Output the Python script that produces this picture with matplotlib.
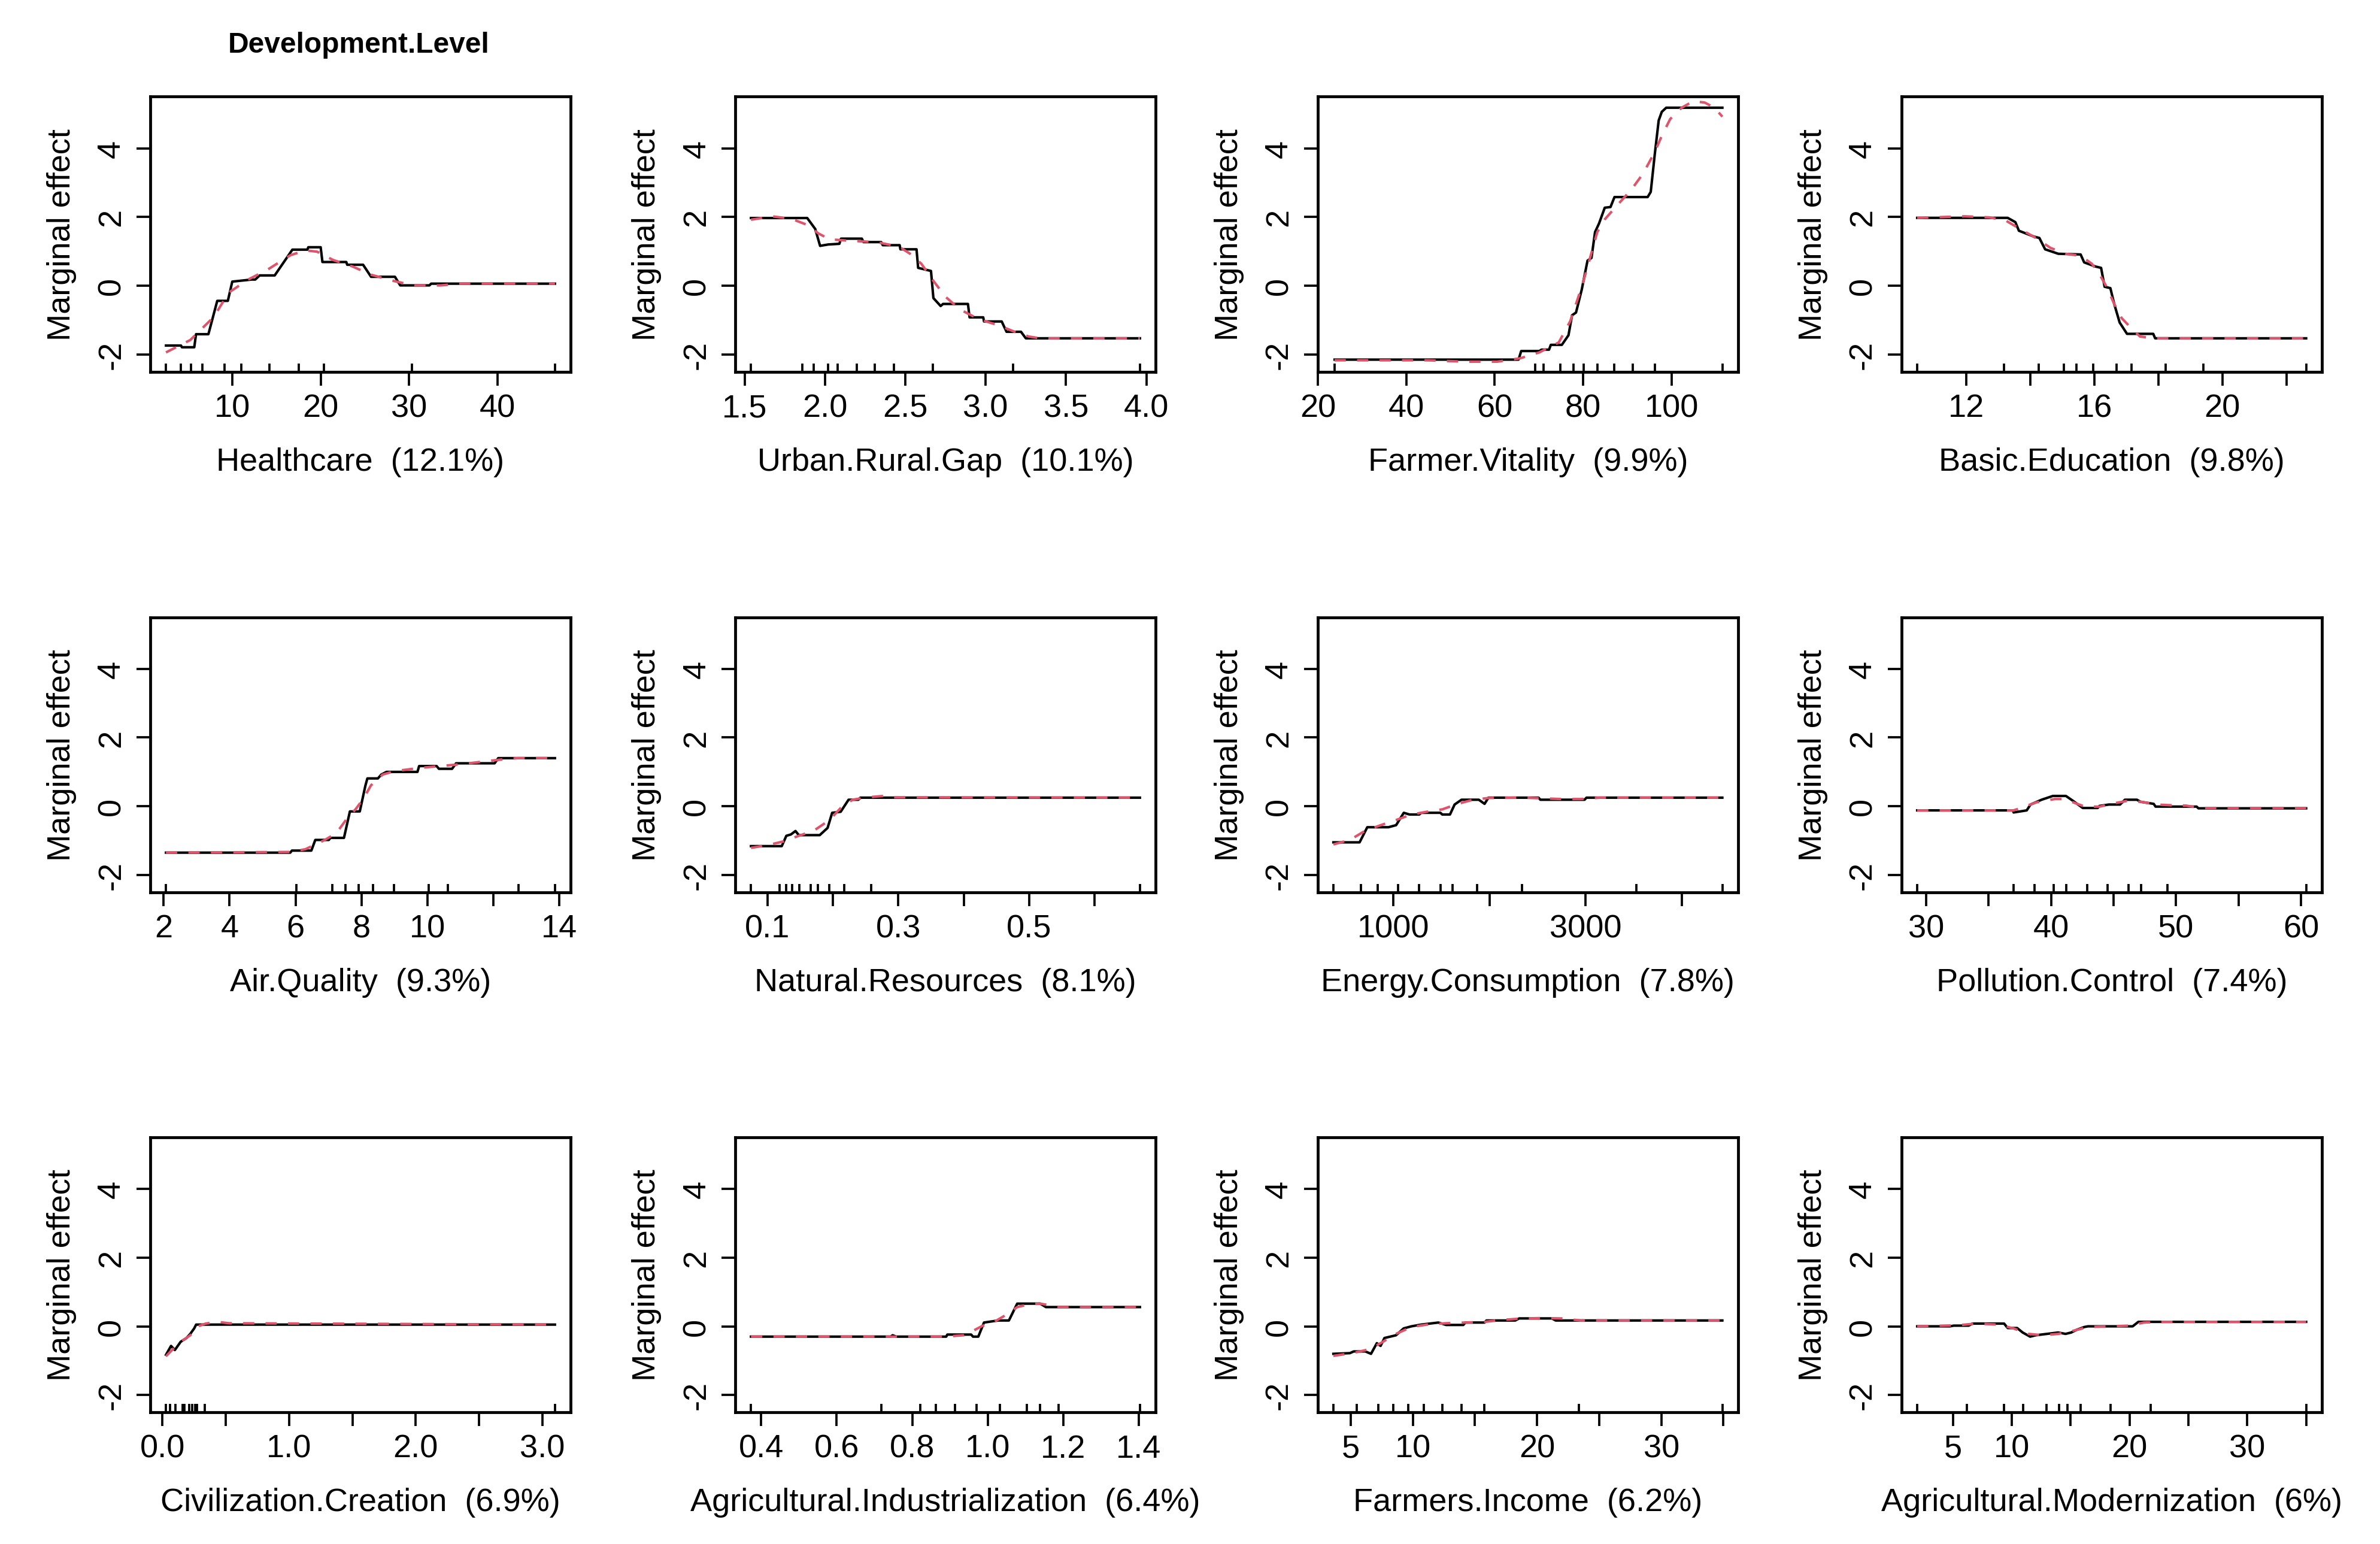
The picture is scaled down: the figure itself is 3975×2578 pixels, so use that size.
import matplotlib
matplotlib.use("Agg")
import matplotlib.pyplot as plt

plt.rcParams['font.family'] = ['Liberation Sans', 'DejaVu Sans']
plt.rcParams['axes.unicode_minus'] = False

# ---------------- data ----------------
names = ["Healthcare", "Urban.Rural.Gap", "Farmer.Vitality", "Basic.Education",
         "Air.Quality", "Natural.Resources", "Energy.Consumption", "Pollution.Control",
         "Civilization.Creation", "Agricultural.Industrialization", "Farmers.Income",
         "Agricultural.Modernization"]
importance = ["12.1", "10.1", "9.9", "9.8", "9.3", "8.1", "7.8", "7.4", "6.9", "6.4", "6.2", "6"]
y_ticks = [-2, 0, 2, 4]
y_ticklabels = ["-2", "0", "2", "4"]

# Healthcare
hc_rug = [2.5, 4.2, 5.3, 6.6, 9.1, 11.0, 14.2, 17.5, 20.4, 30.3, 46.5]
hc_black_x = [2.5, 4.2, 4.3, 5.7, 5.9, 7.3, 8.3, 9.5, 10.0, 12.2, 12.6, 13.1, 14.8, 16.8, 18.5, 18.6, 20.0, 20.2, 22.9, 23.0, 24.8, 25.7, 28.4, 29.0, 32.3, 32.5, 46.5]
hc_black_y = [-1.74, -1.74, -1.79, -1.79, -1.41, -1.41, -0.44, -0.44, 0.12, 0.18, 0.18, 0.30, 0.30, 1.05, 1.05, 1.12, 1.12, 0.69, 0.69, 0.61, 0.61, 0.26, 0.26, 0.01, 0.01, 0.06, 0.06]
hc_red_x = [2.5, 5.25, 7.9, 9.6, 11.8, 14.0, 16.6, 18.3, 19.6, 21.4, 23.6, 25.7, 28.4, 30.5, 33.6, 35.8, 46.5]
hc_red_y = [-1.94, -1.58, -0.91, -0.20, 0.18, 0.47, 0.89, 1.03, 0.99, 0.75, 0.56, 0.32, 0.13, 0.01, 0.01, 0.06, 0.06]
hc_xticks = [10, 20, 30, 40]
hc_xlabels = ["10", "20", "30", "40"]

# Urban.Rural.Gap
ur_rug = [1.54, 1.86, 1.93, 2.02, 2.08, 2.20, 2.31, 2.43, 2.67, 3.17, 3.96]
ur_black_x = [1.54, 1.89, 1.94, 1.97, 2.02, 2.09, 2.10, 2.23, 2.24, 2.35, 2.36, 2.465, 2.47, 2.57, 2.58, 2.66, 2.675, 2.72, 2.735, 2.89, 2.90, 2.985, 2.99, 3.10, 3.13, 3.22, 3.25, 3.96]
ur_black_y = [1.97, 1.97, 1.65, 1.16, 1.20, 1.22, 1.37, 1.37, 1.27, 1.27, 1.18, 1.18, 1.06, 1.06, 0.52, 0.43, -0.36, -0.59, -0.53, -0.53, -0.92, -0.92, -1.04, -1.04, -1.34, -1.34, -1.53, -1.53]
ur_red_x = [1.54, 1.67, 1.79, 1.89, 1.96, 2.03, 2.15, 2.32, 2.46, 2.53, 2.60, 2.675, 2.75, 2.84, 2.96, 3.08, 3.18, 3.27, 3.34, 3.96]
ur_red_y = [1.92, 2.02, 1.95, 1.77, 1.52, 1.35, 1.31, 1.27, 1.14, 0.93, 0.64, 0.14, -0.32, -0.69, -0.98, -1.15, -1.34, -1.48, -1.53, -1.53]
ur_xticks = [1.5, 2.0, 2.5, 3.0, 3.5, 4.0]
ur_xlabels = ["1.5", "2.0", "2.5", "3.0", "3.5", "4.0"]

# Farmer.Vitality
fv_rug = [23.8, 69.1, 71.0, 74.9, 77.8, 80.1, 83.2, 87.1, 91.2, 96.2, 111.5]
fv_black_x = [23.8, 65.4, 66.0, 70.1, 70.6, 72.3, 72.7, 75.2, 76.7, 77.5, 78.4, 79.7, 81.0, 81.9, 82.7, 83.6, 84.9, 86.2, 87.1, 94.6, 95.3, 96.2, 97.1, 97.8, 98.8, 111.5]
fv_black_y = [-2.15, -2.15, -1.90, -1.90, -1.86, -1.86, -1.72, -1.72, -1.44, -0.86, -0.78, -0.11, 0.73, 0.81, 1.56, 1.81, 2.27, 2.29, 2.58, 2.58, 2.73, 3.81, 4.81, 5.06, 5.18, 5.18]
fv_red_x = [23.8, 44.9, 53.6, 60.6, 65.8, 70.1, 74.5, 77.1, 79.7, 81.4, 83.2, 84.9, 87.5, 91.0, 93.6, 96.2, 97.9, 99.7, 102.3, 104.9, 107.5, 109.7, 111.5]
fv_red_y = [-2.17, -2.17, -2.21, -2.21, -2.11, -1.94, -1.65, -1.03, -0.03, 0.73, 1.56, 1.93, 2.31, 2.81, 3.27, 3.89, 4.39, 4.85, 5.18, 5.37, 5.33, 5.18, 4.92]
fv_xticks = [20, 40, 60, 80, 100]
fv_xlabels = ["20", "40", "60", "80", "100"]

# Basic.Education
be_rug = [10.46, 13.18, 14.26, 15.04, 15.43, 15.97, 16.70, 17.17, 18.22, 19.41, 22.62]
be_black_x = [10.46, 13.29, 13.53, 13.64, 14.11, 14.28, 14.46, 14.87, 15.57, 15.68, 16.03, 16.21, 16.32, 16.50, 16.62, 16.79, 17.02, 17.84, 17.90, 22.62]
be_black_y = [1.975, 1.975, 1.85, 1.60, 1.43, 1.39, 1.06, 0.93, 0.91, 0.68, 0.56, 0.52, -0.03, -0.07, -0.53, -1.07, -1.40, -1.40, -1.53, -1.53]
be_red_x = [10.46, 11.95, 12.71, 13.24, 13.70, 14.17, 14.63, 15.10, 15.57, 15.92, 16.15, 16.38, 16.62, 16.85, 17.20, 17.43, 17.90, 22.62]
be_red_y = [1.975, 2.02, 1.99, 1.89, 1.64, 1.39, 1.10, 0.93, 0.87, 0.64, 0.35, -0.03, -0.53, -0.94, -1.28, -1.48, -1.53, -1.53]
be_xticks = [12, 14, 16, 18, 20, 22]
be_xlabels = ["12", "", "16", "", "20", ""]

# Air.Quality
aq_rug = [2.07, 6.02, 7.12, 7.51, 7.91, 8.35, 8.99, 10.04, 10.62, 12.76, 13.87]
aq_black_x = [2.07, 5.84, 5.89, 6.48, 6.60, 7.01, 7.06, 7.47, 7.65, 7.95, 8.12, 8.18, 8.50, 8.60, 8.76, 9.70, 9.75, 10.28, 10.35, 10.75, 10.87, 12.04, 12.15, 13.87]
aq_black_y = [-1.35, -1.35, -1.29, -1.29, -0.98, -0.98, -0.92, -0.92, -0.15, -0.15, 0.60, 0.81, 0.81, 0.92, 1.00, 1.00, 1.17, 1.17, 1.09, 1.09, 1.25, 1.25, 1.40, 1.40]
aq_red_x = [2.07, 5.84, 6.30, 6.89, 7.24, 7.59, 7.82, 8.06, 8.29, 8.64, 8.99, 9.81, 10.98, 12.15, 12.74, 13.87]
aq_red_y = [-1.35, -1.33, -1.25, -0.98, -0.78, -0.32, -0.09, 0.22, 0.61, 0.92, 1.02, 1.12, 1.22, 1.35, 1.40, 1.40]
aq_xticks = [2, 4, 6, 8, 10, 12, 14]
aq_xlabels = ["2", "4", "6", "8", "10", "", "14"]

# Natural.Resources
nr_rug = [0.075, 0.119, 0.129, 0.138, 0.149, 0.166, 0.177, 0.195, 0.217, 0.259, 0.669]
nr_black_x = [0.075, 0.122, 0.129, 0.136, 0.143, 0.148, 0.180, 0.192, 0.199, 0.212, 0.224, 0.239, 0.242, 0.669]
nr_black_y = [-1.16, -1.16, -0.86, -0.82, -0.72, -0.84, -0.84, -0.63, -0.19, -0.16, 0.19, 0.19, 0.25, 0.25]
nr_red_x = [0.075, 0.101, 0.125, 0.148, 0.171, 0.195, 0.212, 0.230, 0.253, 0.277, 0.289, 0.669]
nr_red_y = [-1.21, -1.13, -1.02, -0.86, -0.71, -0.40, -0.05, 0.19, 0.26, 0.30, 0.26, 0.25]
nr_xticks = [0.1, 0.2, 0.3, 0.4, 0.5, 0.6]
nr_xlabels = ["0.1", "", "0.3", "", "0.5", ""]

# Energy.Consumption
ec_rug = [375, 660, 836, 1048, 1268, 1489, 1617, 1869, 2338, 3531, 4424]
ec_black_x = [375, 648, 728, 948, 1028, 1108, 1168, 1269, 1289, 1489, 1509, 1589, 1637, 1709, 1889, 1949, 1989, 2510, 2530, 2990, 3010, 4424]
ec_black_y = [-1.05, -1.05, -0.61, -0.61, -0.55, -0.19, -0.24, -0.24, -0.19, -0.19, -0.24, -0.24, 0.05, 0.19, 0.19, 0.07, 0.25, 0.25, 0.19, 0.19, 0.25, 0.25]
ec_red_x = [375, 547, 708, 868, 1028, 1188, 1348, 1509, 1669, 1829, 1989, 2350, 2750, 2950, 3151, 4424]
ec_red_y = [-1.11, -0.98, -0.71, -0.55, -0.40, -0.24, -0.16, -0.09, 0.07, 0.19, 0.24, 0.25, 0.21, 0.21, 0.25, 0.25]
ec_xticks = [1000, 2000, 3000, 4000]
ec_xlabels = ["1000", "", "3000", ""]

# Pollution.Control
pc_rug = [29.3, 37.0, 38.7, 40.2, 41.2, 42.9, 44.5, 46.2, 47.2, 49.3, 60.4]
pc_black_x = [29.3, 36.96, 37.01, 38.06, 38.36, 39.25, 40.15, 41.19, 41.79, 42.54, 43.73, 43.88, 44.63, 45.52, 45.91, 46.87, 47.16, 48.21, 48.36, 51.64, 51.79, 60.4]
pc_black_y = [-0.12, -0.12, -0.18, -0.12, 0.05, 0.19, 0.30, 0.30, 0.15, -0.05, -0.05, 0.01, 0.05, 0.05, 0.19, 0.19, 0.13, 0.07, -0.01, -0.01, -0.06, -0.06]
pc_red_x = [29.3, 37.0, 37.6, 38.8, 40.3, 40.9, 41.8, 42.7, 43.9, 45.1, 46.0, 47.2, 48.4, 49.6, 50.8, 51.9, 60.4]
pc_red_y = [-0.12, -0.12, -0.05, 0.11, 0.21, 0.21, 0.11, -0.01, -0.01, 0.09, 0.15, 0.13, 0.05, 0.03, 0.02, -0.05, -0.05]
pc_xticks = [30, 35, 40, 45, 50, 55, 60]
pc_xlabels = ["30", "", "40", "", "50", "", "60"]

# Civilization.Creation
cc_rug = [0.027, 0.058, 0.104, 0.158, 0.174, 0.210, 0.235, 0.256, 0.274, 0.332, 3.10]
cc_black_x = [0.027, 0.067, 0.097, 0.143, 0.189, 0.219, 0.250, 0.265, 3.10]
cc_black_y = [-0.83, -0.57, -0.69, -0.45, -0.34, -0.22, -0.06, 0.05, 0.05]
cc_red_x = [0.027, 0.128, 0.219, 0.280, 0.341, 0.433, 0.524, 3.10]
cc_red_y = [-0.87, -0.49, -0.26, 0.00, 0.08, 0.13, 0.09, 0.05]
cc_xticks = [0.0, 0.5, 1.0, 1.5, 2.0, 2.5, 3.0]
cc_xlabels = ["0.0", "", "1.0", "", "2.0", "", "3.0"]

# Agricultural.Industrialization
ai_rug = [0.373, 0.718, 0.822, 0.862, 0.914, 0.970, 1.032, 1.104, 1.139, 1.187, 1.403]
ai_black_x = [0.373, 0.743, 0.748, 0.758, 0.890, 0.893, 0.956, 0.961, 0.975, 0.990, 1.027, 1.056, 1.078, 1.139, 1.154, 1.403]
ai_black_y = [-0.30, -0.30, -0.26, -0.30, -0.30, -0.24, -0.24, -0.30, -0.30, 0.11, 0.17, 0.17, 0.66, 0.66, 0.56, 0.56]
ai_red_x = [0.373, 0.885, 0.936, 0.961, 0.987, 1.017, 1.048, 1.078, 1.109, 1.139, 1.170, 1.190, 1.403]
ai_red_y = [-0.30, -0.30, -0.26, -0.13, 0.02, 0.13, 0.33, 0.56, 0.64, 0.66, 0.60, 0.56, 0.56]
ai_xticks = [0.4, 0.6, 0.8, 1.0, 1.2, 1.4]
ai_xlabels = ["0.4", "0.6", "0.8", "1.0", "1.2", "1.4"]

# Farmers.Income
fi_rug = [3.61, 5.50, 7.23, 8.41, 9.64, 10.88, 12.37, 13.92, 15.77, 23.36, 34.91]
fi_black_x = [3.61, 4.94, 5.25, 6.18, 6.64, 7.11, 7.41, 7.72, 8.65, 9.27, 9.89, 10.67, 12.06, 12.68, 14.07, 14.23, 15.77, 15.93, 18.25, 18.56, 21.19, 21.50, 34.91]
fi_black_y = [-0.80, -0.78, -0.73, -0.73, -0.80, -0.49, -0.57, -0.34, -0.26, -0.06, 0.00, 0.05, 0.11, 0.04, 0.04, 0.11, 0.11, 0.17, 0.17, 0.23, 0.23, 0.17, 0.17]
fi_red_x = [3.61, 5.25, 6.49, 7.41, 8.65, 9.89, 11.13, 12.68, 14.23, 15.77, 17.32, 18.87, 20.42, 21.97, 23.51, 34.91]
fi_red_y = [-0.86, -0.77, -0.67, -0.49, -0.22, -0.02, 0.05, 0.09, 0.11, 0.13, 0.19, 0.23, 0.24, 0.23, 0.17, 0.17]
fi_xticks = [5, 10, 15, 20, 25, 30, 35]
fi_xlabels = ["5", "10", "", "20", "", "30", ""]

# Agricultural.Modernization
am_rug = [1.96, 6.17, 9.34, 10.98, 12.92, 14.02, 14.72, 15.83, 18.36, 21.78, 34.99]
am_black_x = [1.96, 4.75, 5.06, 6.33, 6.65, 9.34, 9.65, 10.45, 10.92, 11.55, 12.03, 13.93, 14.56, 15.04, 15.51, 16.15, 16.46, 20.26, 20.74, 34.99]
am_black_y = [0.00, 0.00, 0.02, 0.02, 0.08, 0.08, -0.05, -0.05, -0.18, -0.30, -0.26, -0.18, -0.22, -0.18, -0.10, -0.02, 0.00, 0.00, 0.13, 0.13]
am_red_x = [1.96, 5.38, 6.96, 8.86, 10.13, 11.40, 12.66, 13.93, 15.20, 16.46, 18.36, 19.95, 21.21, 22.80, 34.99]
am_red_y = [0.00, 0.03, 0.08, 0.05, -0.06, -0.22, -0.26, -0.22, -0.13, -0.02, 0.00, 0.02, 0.11, 0.13, 0.13]
am_xticks = [5, 10, 15, 20, 25, 30, 35]
am_xlabels = ["5", "10", "", "20", "", "30", ""]

panels = [
    (hc_rug, hc_black_x, hc_black_y, hc_red_x, hc_red_y, hc_xticks, hc_xlabels),
    (ur_rug, ur_black_x, ur_black_y, ur_red_x, ur_red_y, ur_xticks, ur_xlabels),
    (fv_rug, fv_black_x, fv_black_y, fv_red_x, fv_red_y, fv_xticks, fv_xlabels),
    (be_rug, be_black_x, be_black_y, be_red_x, be_red_y, be_xticks, be_xlabels),
    (aq_rug, aq_black_x, aq_black_y, aq_red_x, aq_red_y, aq_xticks, aq_xlabels),
    (nr_rug, nr_black_x, nr_black_y, nr_red_x, nr_red_y, nr_xticks, nr_xlabels),
    (ec_rug, ec_black_x, ec_black_y, ec_red_x, ec_red_y, ec_xticks, ec_xlabels),
    (pc_rug, pc_black_x, pc_black_y, pc_red_x, pc_red_y, pc_xticks, pc_xlabels),
    (cc_rug, cc_black_x, cc_black_y, cc_red_x, cc_red_y, cc_xticks, cc_xlabels),
    (ai_rug, ai_black_x, ai_black_y, ai_red_x, ai_red_y, ai_xticks, ai_xlabels),
    (fi_rug, fi_black_x, fi_black_y, fi_red_x, fi_red_y, fi_xticks, fi_xlabels),
    (am_rug, am_black_x, am_black_y, am_red_x, am_red_y, am_xticks, am_xlabels),
]

# ---------------- layout ----------------
W, H, DPI = 3975, 2579, 300
fig = plt.figure(figsize=(W / DPI, H / DPI), dpi=DPI)
fig.patch.set_facecolor("white")

lefts = [0.0632, 0.309, 0.5537, 0.799]
bottoms = [0.759, 0.422, 0.0853]
AW, AH = 0.1765, 0.178
FS = 13
RED = "#DF536B"

for i, (rug, bx, by, rx, ry, xt, xl) in enumerate(panels):
    r, c = divmod(i, 4)
    ax = fig.add_axes([lefts[c], bottoms[r], AW, AH])
    ax.plot(bx, by, color="black", lw=1.0, zorder=3)
    ax.plot(rx, ry, color=RED, lw=1.0, dashes=(4.5, 4.5), zorder=4)
    ax.vlines(rug, 0, 0.03, transform=ax.get_xaxis_transform(),
              color="black", lw=0.9, zorder=2)
    lo, hi = min(rug), max(rug)
    pad = 0.04 * (hi - lo)
    ax.set_xlim(lo - pad, hi + pad)
    ax.set_ylim(-2.5, 5.5)
    ax.set_yticks(y_ticks)
    ax.set_yticklabels(y_ticklabels, rotation=90, va="center", ha="right")
    ax.set_xticks(xt)
    ax.set_xticklabels(xl)
    ax.tick_params(axis="both", direction="out", length=5.6, width=0.9,
                   labelsize=FS, top=False, right=False)
    ax.tick_params(axis="x", pad=3)
    ax.tick_params(axis="y", pad=4)
    for s in ax.spines.values():
        s.set_linewidth(1.15)
    ax.set_xlabel(f"{names[i]}  ({importance[i]}%)", fontsize=FS, labelpad=9.5)
    ax.set_ylabel("Marginal effect", fontsize=FS, labelpad=8)

fig.text(0.1506, 1 - 76 / H, "Development.Level", ha="center", va="center",
         fontsize=11.5, fontweight="bold")

fig.savefig("out.png", dpi=DPI, facecolor="white")
